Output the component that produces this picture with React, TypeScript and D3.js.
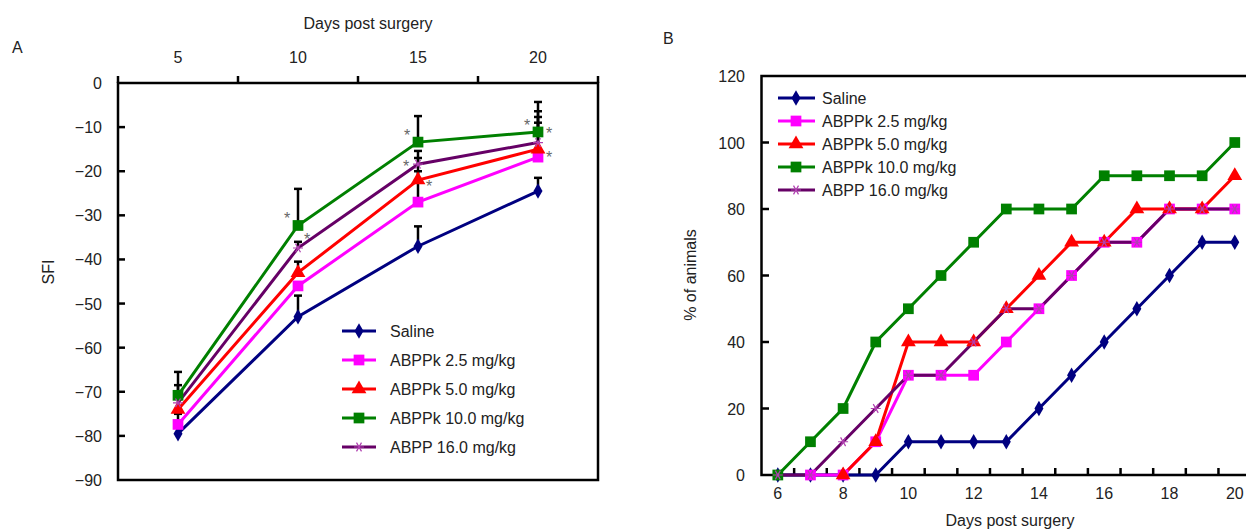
import React from "react";
import * as d3 from "d3";

// ---------- Panel A data ----------
const daysA = [5, 10, 15, 20];
const sfiTicks = [0, -10, -20, -30, -40, -50, -60, -70, -80, -90];
const sfiSaline = [-79.5, -53, -37, -24.5];
const sfiAbppk25 = [-77.4, -46, -27, -16.8];
const sfiAbppk50 = [-74, -43, -22, -15];
const sfiAbppk100 = [-70.8, -32.3, -13.4, -11.1];
const sfiAbpp160 = [-72.5, -37.4, -18.4, -13.5];
// upper error (SEM) per day; 0 = not shown
const semSaline = [0, 4.8, 4.5, 3.0];
const semAbppk25 = [2.4, 0, 7, 7.8];
const semAbppk50 = [0, 2.5, 5, 7.3];
const semAbppk100 = [5.3, 8.3, 5.9, 6.8];
const semAbpp160 = [4.0, 1.4, 3.0, 7.1];

// ---------- Panel B data ----------
const daysB = [6, 7, 8, 9, 10, 11, 12, 13, 14, 15, 16, 17, 18, 19, 20];
const pctTicks = [0, 20, 40, 60, 80, 100, 120];
const pctSaline = [0, 0, 0, 0, 10, 10, 10, 10, 20, 30, 40, 50, 60, 70, 70];
const pctAbppk25 = [null, 0, 0, 10, 30, 30, 30, 40, 50, 60, 70, 70, 80, 80, 80];
const pctAbppk50 = [null, null, 0, 10, 40, 40, 40, 50, 60, 70, 70, 80, 80, 80, 90];
const pctAbppk100 = [0, 10, 20, 40, 50, 60, 70, 80, 80, 80, 90, 90, 90, 90, 100];
const pctAbpp160 = [0, 0, 10, 20, 30, 30, 40, 50, 50, 60, 70, 70, 80, 80, 80];

const seriesNames = [
  "Saline",
  "ABPPk 2.5 mg/kg",
  "ABPPk 5.0 mg/kg",
  "ABPPk 10.0 mg/kg",
  "ABPP 16.0 mg/kg",
];

// significance asterisks: [series index, day index, side]
const starsA: [number, number, string][] = [
  [3, 1, "ul"],
  [4, 1, "ur"],
  [3, 2, "ul"],
  [4, 2, "l"],
  [2, 2, "r"],
  [3, 3, "ul"],
  [3, 3, "rh"],
  [2, 3, "rl"],
];

const colors = ["#000080", "#FF00FF", "#FF0000", "#008000", "#660066"];
const markerFill = ["#000080", "#FF00FF", "#FF0000", "#008000", "#B040B0"];
const markerKind = ["diamond", "square", "triangle", "square", "star"];

const FONT = "Arial, 'Liberation Sans', Helvetica, sans-serif";
const TXT = "#222";

function Marker({ kind, x, y, fill, scale = 1 }: any) {
  if (kind === "star") {
    const r = 5 * scale;
    const p = [0, 60, 120].map((a) => {
      const rad = (a * Math.PI) / 180;
      return `M${x - r * Math.cos(rad)},${y - r * Math.sin(rad)}L${x + r * Math.cos(rad)},${y + r * Math.sin(rad)}`;
    });
    return <path d={p.join("") + `M${x - r},${y}L${x + r},${y}`} stroke={fill} strokeWidth={1.2} fill="none" />;
  }
  let sym = d3.symbolSquare;
  let size = 110;
  if (kind === "diamond") {
    sym = d3.symbolDiamond;
    size = 70;
  }
  if (kind === "triangle") {
    sym = d3.symbolTriangle;
    size = 95;
  }
  if (kind === "square") size = 115;
  const d = d3.symbol(sym, size * scale * scale)() as string;
  return <path d={d} transform={`translate(${x},${y})`} fill={fill} />;
}

function PanelA() {
  const x = d3.scaleBand<number>().domain(daysA).range([118, 598]).padding(0);
  const y = d3.scaleLinear().domain([-90, 0]).range([480, 83]);
  const cx = (d: number) => (x(d) as number) + x.bandwidth() / 2;
  const data = [sfiSaline, sfiAbppk25, sfiAbppk50, sfiAbppk100, sfiAbpp160];
  const sems = [semSaline, semAbppk25, semAbppk50, semAbppk100, semAbpp160];
  const line = d3
    .line<number>()
    .x((_, i) => cx(daysA[i]))
    .y((v) => y(v));
  const boundaries = [...daysA.map((d) => x(d) as number), 598];
  const starOff: any = {
    ul: [-11, -10],
    ur: [9, -12],
    l: [-12, -1],
    r: [11, 3],
    rh: [11, -2],
    rl: [11, 5],
  };
  return (
    <g fontFamily={FONT}>
      <text x={12} y={53} fontSize={16} fill={TXT}>A</text>
      <text x={368} y={29} fontSize={16} fill={TXT} textAnchor="middle">Days post surgery</text>
      {daysA.map((d) => (
        <text key={d} x={cx(d)} y={63} fontSize={16} fill={TXT} textAnchor="middle">{d}</text>
      ))}
      {boundaries.map((b, i) => (
        <line key={i} x1={b} x2={b} y1={83} y2={76} stroke="#000" strokeWidth={2.5} />
      ))}
      {sfiTicks.map((t) => (
        <g key={t}>
          <text x={102} y={y(t) + 6} fontSize={16} fill={TXT} textAnchor="end">
            {t === 0 ? "0" : "\u2212" + Math.abs(t)}
          </text>
          {t !== 0 && t !== -90 && <line x1={118} x2={125} y1={y(t)} y2={y(t)} stroke="#000" strokeWidth={2.5} />}
        </g>
      ))}
      <text transform={`translate(54,272) rotate(-90)`} fontSize={16} fill={TXT} textAnchor="middle">SFI</text>
      <rect x={118} y={83} width={480} height={397} fill="none" stroke="#000" strokeWidth={2.5} />
      {/* error bars */}
      {sems.map((s, si) =>
        s.map((e, di) =>
          e > 0 ? (
            <g key={`e${si}-${di}`} stroke="#000" strokeWidth={2.5}>
              <line x1={cx(daysA[di])} x2={cx(daysA[di])} y1={y(data[si][di])} y2={y(data[si][di] + e)} />
              <line x1={cx(daysA[di]) - 4} x2={cx(daysA[di]) + 4} y1={y(data[si][di] + e)} y2={y(data[si][di] + e)} />
            </g>
          ) : null
        )
      )}
      {data.map((s, si) => (
        <path key={si} d={line(s) as string} fill="none" stroke={colors[si]} strokeWidth={3} />
      ))}
      {data.map((s, si) =>
        s.map((v, di) => <Marker key={`m${si}-${di}`} kind={markerKind[si]} x={cx(daysA[di])} y={y(v)} fill={markerFill[si]} />)
      )}
      {starsA.map(([si, di, side], i) => {
        const [dx, dy] = starOff[side];
        return (
          <text key={i} x={cx(daysA[di]) + dx} y={y(data[si][di]) + dy + 9} fontSize={16} fill="#666" textAnchor="middle">*</text>
        );
      })}
      {/* legend */}
      {seriesNames.map((n, i) => {
        const ly = 331 + i * 29;
        return (
          <g key={n}>
            <line x1={342} x2={376} y1={ly} y2={ly} stroke={colors[i]} strokeWidth={3} />
            <Marker kind={markerKind[i]} x={359} y={ly} fill={markerFill[i]} />
            <text x={390} y={ly + 6} fontSize={16} fill={TXT}>{n}</text>
          </g>
        );
      })}
    </g>
  );
}

function PanelB() {
  const x = d3.scaleBand<number>().domain(daysB).range([761.5, 761.5 + 15 * 32.64]).padding(0);
  const y = d3.scaleLinear().domain([0, 120]).range([475, 76]);
  const cx = (d: number) => (x(d) as number) + x.bandwidth() / 2;
  const data = [pctSaline, pctAbppk25, pctAbppk50, pctAbppk100, pctAbpp160];
  const line = d3
    .line<number | null>()
    .defined((v) => v !== null)
    .x((_, i) => cx(daysB[i]))
    .y((v) => y(v as number));
  const boundaries = daysB.map((d) => (x(d) as number) + x.bandwidth()).slice(0, -1);
  return (
    <g fontFamily={FONT}>
      <text x={663} y={44} fontSize={16} fill={TXT}>B</text>
      {pctTicks.map((t) => (
        <g key={t}>
          <text x={745} y={y(t) + 6} fontSize={16} fill={TXT} textAnchor="end">{t}</text>
          {t !== 0 && t !== 120 && <line x1={761.5} x2={769} y1={y(t)} y2={y(t)} stroke="#000" strokeWidth={2.5} />}
        </g>
      ))}
      {boundaries.map((b, i) => (
        <line key={i} x1={b} x2={b} y1={475} y2={468} stroke="#000" strokeWidth={2.5} />
      ))}
      {daysB.filter((d) => d % 2 === 0).map((d) => (
        <text key={d} x={cx(d)} y={499} fontSize={16} fill={TXT} textAnchor="middle">{d}</text>
      ))}
      <text x={1010} y={526} fontSize={16} fill={TXT} textAnchor="middle">Days post surgery</text>
      <text transform={`translate(696,275) rotate(-90)`} fontSize={16} fill={TXT} textAnchor="middle">% of animals</text>
      <path d={`M1260,76H761.5V475H1260`} fill="none" stroke="#000" strokeWidth={2.5} />
      {data.map((s, si) => (
        <path key={si} d={line(s) as string} fill="none" stroke={colors[si]} strokeWidth={3} />
      ))}
      {data.map((s, si) =>
        s.map((v, di) =>
          v === null ? null : <Marker key={`m${si}-${di}`} kind={markerKind[si]} x={cx(daysB[di])} y={y(v)} fill={markerFill[si]} />
        )
      )}
      {seriesNames.map((n, i) => {
        const ly = 98 + i * 23;
        return (
          <g key={n}>
            <line x1={778} x2={815} y1={ly} y2={ly} stroke={colors[i]} strokeWidth={3} />
            <Marker kind={markerKind[i]} x={796} y={ly} fill={markerFill[i]} />
            <text x={822} y={ly + 6} fontSize={16} fill={TXT}>{n}</text>
          </g>
        );
      })}
    </g>
  );
}

export default function App() {
  return (
    <svg width={1246} height={529} style={{ position: "absolute", left: 0, top: 0, background: "#fff" }}>
      <rect width={1246} height={529} fill="#fff" />
      <PanelA />
      <PanelB />
    </svg>
  );
}
